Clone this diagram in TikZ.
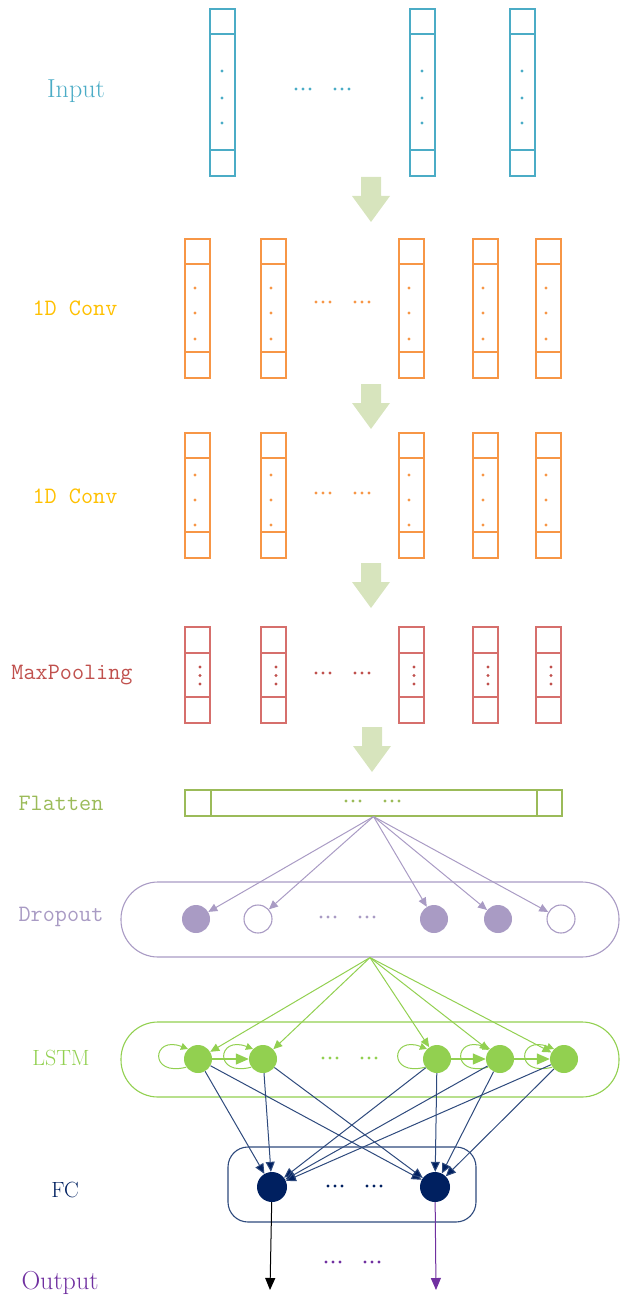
\documentclass[tikz,border=0pt]{standalone}
\usetikzlibrary{arrows.meta}
\definecolor{inblue}{HTML}{4BACC6}
\definecolor{convor}{HTML}{F79646}
\definecolor{convlab}{HTML}{FFC000}
\definecolor{poolred}{HTML}{D66F6C}
\definecolor{poollab}{HTML}{C0504D}
\definecolor{flatgr}{HTML}{9BBB59}
\definecolor{droppu}{HTML}{A99BC4}
\definecolor{lstmgr}{HTML}{92D050}
\definecolor{fcnavy}{HTML}{002060}
\definecolor{fcline}{HTML}{2E4A7D}
\definecolor{outpu}{HTML}{7030A0}
\definecolor{blockgr}{HTML}{D7E4BD}

% a vertical feature column: x, top, first divider, second divider, bottom, colour
\newcommand\featcol[6]{%
  \draw[#6, line width=1.1] (#1,#2) rectangle (#1+25,#5);
  \draw[#6, line width=1.1] (#1,#3) -- (#1+25,#3) (#1,#4) -- (#1+25,#4);
}
% three dots inside a column: x, y1, y2, y3, colour
\newcommand\coldots[5]{%
  \foreach \yy in {#2,#3,#4}{\fill[#5] (#1,\yy) circle (1.6);}
}
% a "... ..." ellipsis: centre x, y, colour
\newcommand\dotrow[3]{%
  \foreach \o in {-27,-20,-13,12,19,26}{\fill[#3] (#1+\o,#2) circle (1.7);}
}
% wide green block arrow: centre x, top y
\newcommand\blockarrow[2]{%
  \fill[blockgr] (#1-10,#2) -- (#1+10,#2) -- (#1+10,#2+19) -- (#1+19,#2+19)
    -- (#1,#2+45) -- (#1-19,#2+19) -- (#1-10,#2+19) -- cycle;
}

\tikzset{
  lab/.style={font=\fontsize{26}{26}\selectfont, inner sep=0pt},
  labsm/.style={font=\fontsize{22}{22}\selectfont, inner sep=0pt},
  labtt/.style={font=\ttfamily\fontsize{23.5}{24}\selectfont, inner sep=0pt},
  unit/.style={circle, minimum size=28, inner sep=0pt},
  tip/.style={-{Triangle[length=9,width=8]}},
}

\begin{document}
\begin{tikzpicture}[x=1pt, y=-1pt]
\useasboundingbox (0,0) rectangle (620,1297);

% ---------- Input ----------
\node[lab, text=inblue] (labin) at (76,91) {Input};
\foreach \cx in {210,410,510}{
  \featcol{\cx}{9}{34}{150}{176}{inblue}
  \coldots{\cx+12}{71}{98}{123}{inblue}
}
\dotrow{323}{89}{inblue}
\blockarrow{371}{177}

% ---------- first convolution ----------
\node[labtt, text=convlab] (labc1) at (75,308) {1D Conv};
\foreach \cx in {185,261,399,473,536}{
  \featcol{\cx}{239}{264}{352}{378}{convor}
  \coldots{\cx+10}{288}{313}{339}{convor}
}
\dotrow{343}{302}{convor}
\blockarrow{371}{384}

% ---------- second convolution ----------
\node[labtt, text=convlab] (labc2) at (75,496) {1D Conv};
\foreach \cx in {185,261,399,473,536}{
  \featcol{\cx}{433}{458}{532}{558}{convor}
  \coldots{\cx+10}{475}{500}{525}{convor}
}
\dotrow{343}{493}{convor}
\blockarrow{371}{563}

% ---------- max pooling ----------
\node[labtt, text=poollab] (labpool) at (72,675) {MaxPooling};
\foreach \cx in {185,261,399,473,536}{
  \featcol{\cx}{627}{653}{697}{723}{poolred}
  \coldots{\cx+15}{667}{675.5}{684}{poollab}
}
\dotrow{343}{673}{poollab}
\blockarrow{372}{727}

% ---------- flatten ----------
\node[labtt, text=flatgr] (labflat) at (61,803) {Flatten};
\node[draw=flatgr, line width=1.1, minimum width=377, minimum height=26,
      inner sep=0pt] (flat) at (373.5,803) {};
\draw[flatgr, line width=1.1] (211,790) -- (211,816) (537,790) -- (537,816);
\dotrow{373}{801}{flatgr}

% ---------- dropout ----------
\node[labtt, text=droppu] (labdrop) at (61,917) {Dropout};
\node[draw=droppu, line width=1.1, rounded corners=37, minimum width=498,
      minimum height=75, inner sep=0pt] (drop) at (370,919.5) {};
\node[unit, fill=droppu] (d1) at (196,919) {};
\node[unit, draw=droppu, line width=1.1, fill=white] (d2) at (258,919) {};
\node[unit, fill=droppu] (d3) at (434,919) {};
\node[unit, fill=droppu] (d4) at (498,919) {};
\node[unit, draw=droppu, line width=1.1, fill=white] (d5) at (561,919) {};
\dotrow{348}{917}{droppu}
\foreach \d in {d1,d2,d3,d4,d5}{
  \draw[droppu, line width=1, tip] (flat.south) -- (\d);
}

% ---------- LSTM ----------
\node[labsm, text=lstmgr] (lablstm) at (61,1058) {LSTM};
\node[draw=lstmgr, line width=1.1, rounded corners=37, minimum width=498,
      minimum height=75, inner sep=0pt] (lstm) at (370,1059.5) {};
\node[unit, fill=lstmgr] (l1) at (198,1059) {};
\node[unit, fill=lstmgr] (l2) at (263,1059) {};
\node[unit, fill=lstmgr] (l3) at (437,1059) {};
\node[unit, fill=lstmgr] (l4) at (500,1059) {};
\node[unit, fill=lstmgr] (l5) at (564,1059) {};
\dotrow{350}{1058}{lstmgr}
\foreach \l in {l1,l2,l3,l4,l5}{
  \draw[lstmgr, line width=1, tip] (drop.south) -- (\l);
  \draw[lstmgr, line width=1, -{Triangle[length=7,width=7]}]
    (\l.215) .. controls +(-38,10) and +(-36,-14) .. (\l.135);
}
\draw[lstmgr, line width=1.3, -{Triangle[length=13,width=11]}] (l1) -- (l2);
\draw[lstmgr, line width=1.3, -{Triangle[length=13,width=11]}] (l3) -- (l4);
\draw[lstmgr, line width=1.3, -{Triangle[length=13,width=11]}] (l4) -- (l5);

% ---------- fully connected ----------
\node[labsm, text=fcnavy] (labfc) at (65,1190) {FC};
\node[draw=fcline, line width=1.1, rounded corners=20, minimum width=248,
      minimum height=75, inner sep=0pt] (fc) at (352,1184.5) {};
\node[unit, minimum size=30, fill=fcnavy] (f1) at (272,1187) {};
\node[unit, minimum size=30, fill=fcnavy] (f2) at (435,1187) {};
\dotrow{355}{1186}{fcnavy}
\foreach \l in {l1,l2,l3,l4,l5}{
  \foreach \f in {f1,f2}{
    \draw[fcline, line width=1, -{Triangle[length=10,width=9,fill=fcnavy]}] (\l) -- (\f);
  }
}

% ---------- output ----------
\node[lab, text=outpu] (labout) at (60,1283) {Output};
\coordinate (o1) at (270,1290);
\coordinate (o2) at (436,1290);
\draw[black, line width=1, -{Triangle[length=12,width=10]}] (f1) -- (o1);
\draw[outpu, line width=1, -{Triangle[length=12,width=10]}] (f2) -- (o2);
\dotrow{353}{1262}{outpu}
\end{tikzpicture}
\end{document}
